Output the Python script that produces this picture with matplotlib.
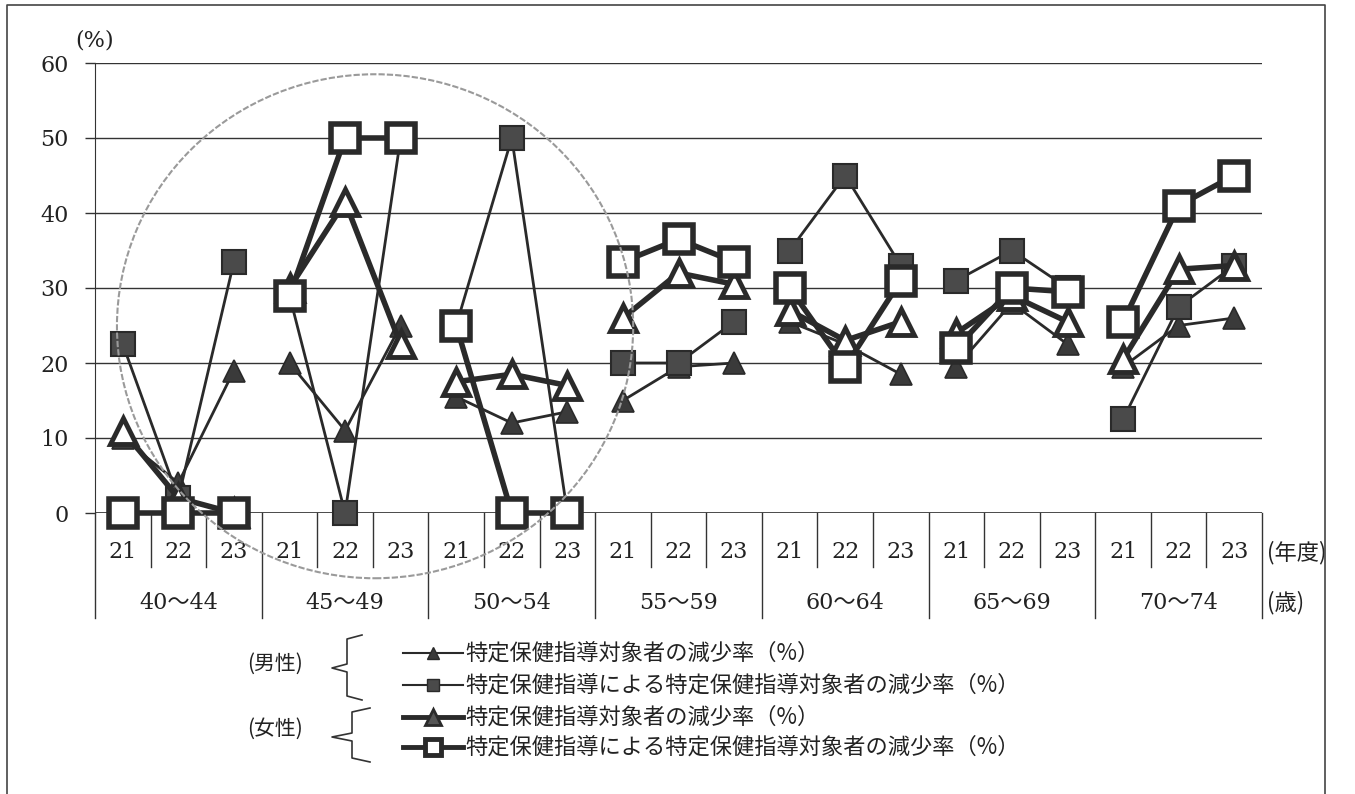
import matplotlib
matplotlib.use("Agg")
import matplotlib.pyplot as plt
import matplotlib.transforms as mtransforms
from matplotlib.lines import Line2D
from matplotlib.patches import Ellipse

plt.rcParams['font.family'] = ['DejaVu Serif', 'Noto Sans CJK JP']

# 年齢階級と年度
age_groups = ['40〜44', '45〜49', '50〜54', '55〜59', '60〜64', '65〜69', '70〜74']
years = ['21', '22', '23']

# 減少率 (%)  年齢階級ごとに 21, 22, 23 年度の順
male_target = [10, 4, 19, 20, 11, 25, 15.5, 12, 13.5, 15, 19.5, 20,
               25.5, 22.5, 18.5, 19.5, 28, 22.5, 19.5, 25, 26]
male_guided = [22.5, 2, 33.5, 29, 0, 50, 25, 50, 0, 20, 20, 25.5,
               35, 45, 33, 31, 35, 30, 12.5, 27.5, 33]
female_target = [11, 2, 0, 30, 41.5, 22.5, 17.5, 18.5, 17, 26, 32, 30.5,
                 27, 23, 25.5, 24, 29, 25.5, 20.5, 32.5, 33]
female_guided = [0, 0, 0, 29, 50, 50, 25, 0, 0, 33.5, 36.5, 33.5,
                 30, 19.5, 31, 22, 30, 29.5, 25.5, 41, 45]

label_target = '特定保健指導対象者の減少率（%）'
label_guided = '特定保健指導による特定保健指導対象者の減少率（%）'

W, H = 1355, 794
ink = '#2a2a2a'

# 系列ごとの線・マーカー
series = [
    (male_target, dict(lw=2.0, marker='^', ms=16, mfc='#3a3a3a', mec=ink, mew=1.2, zorder=3)),
    (male_guided, dict(lw=2.0, marker='s', ms=17, mfc='#4a4a4a', mec=ink, mew=1.5, zorder=4)),
    (female_target, dict(lw=4.0, marker='^', ms=19, mfc='white', mec=ink, mew=3.5, zorder=5)),
    (female_guided, dict(lw=4.0, marker='s', ms=20, mfc='white', mec=ink, mew=4.0, zorder=6)),
]


def fx(x):
    return x / W


def fy(y):
    return 1 - y / H


fig = plt.figure(figsize=(W / 100, H / 100), dpi=100)
ax = fig.add_axes([fx(95), fy(513), (1262 - 95) / W, 450 / H])

for vals, style in series:
    for g in range(len(age_groups)):
        xs = [3 * g + k for k in range(3)]
        ax.plot(xs, vals[3 * g:3 * g + 3], color=ink, clip_on=False, **style)

ax.set_xlim(-0.5, 3 * len(age_groups) - 0.5)
ax.set_ylim(0, 60)
ax.set_yticks(range(0, 61, 10))
ax.set_xticks([])
ax.yaxis.grid(True, color='#333333', lw=1.0)
ax.set_axisbelow(True)
for side in ['top', 'right', 'bottom']:
    ax.spines[side].set_visible(False)
ax.spines['left'].set_color('#333333')
ax.tick_params(axis='y', direction='out', length=7, width=1.0, color='#333333',
               pad=12, labelsize=16, labelcolor='#222222')
ax.axhline(0, color='#333333', lw=1.2, zorder=1)

fig.text(fx(95), fy(40), '(%)', fontsize=16, ha='center', va='center', color='#222222')

# 年度・年齢階級の表
trans = mtransforms.blended_transform_factory(ax.transData, ax.transAxes)
n = 3 * len(age_groups)
for i in range(n + 1):
    bottom = -0.233 if i % 3 == 0 else -0.12
    ax.plot([i - 0.5, i - 0.5], [0, bottom], transform=trans, color='#333333',
            lw=1.0, clip_on=False)
for i in range(n):
    ax.text(i, -0.087, years[i % 3], transform=trans, ha='center', va='center',
            fontsize=16, color='#222222')
for g, name in enumerate(age_groups):
    ax.text(3 * g + 1, -0.2, name, transform=trans, ha='center', va='center',
            fontsize=16, color='#222222')
ax.text(1.004, -0.087, '(年度)', transform=ax.transAxes, ha='left', va='center',
        fontsize=16, family=['Noto Sans CJK JP'], color='#222222')
ax.text(1.004, -0.2, '(歳)', transform=ax.transAxes, ha='left', va='center',
        fontsize=16, family=['Noto Sans CJK JP'], color='#222222')

# 40〜54歳を囲む円
ax.add_patch(Ellipse((4.54, 24.9), 9.29, 67.2, fill=False, edgecolor='#9a9a9a',
                     lw=1.5, ls=(0, (3, 1)), clip_on=False, zorder=10))

# 凡例
legend_rows = [
    (653, label_target, dict(lw=1.5, marker='^', ms=9, mfc='#3a3a3a', mec=ink, mew=1)),
    (685, label_guided, dict(lw=1.5, marker='s', ms=9, mfc='#4a4a4a', mec=ink, mew=1)),
    (717, label_target, dict(lw=3.5, marker='^', ms=12, mfc='#555555', mec=ink, mew=2)),
    (747, label_guided, dict(lw=3.5, marker='s', ms=11, mfc='white', mec=ink, mew=3.5)),
]
for y, text, style in legend_rows:
    fig.add_artist(Line2D([fx(403), fx(433), fx(463)], [fy(y)] * 3, color=ink,
                          markevery=[1], transform=fig.transFigure, **style))
    fig.text(fx(465), fy(y), text, fontsize=16, family=['Noto Sans CJK JP'],
             ha='left', va='center', color='#222222')

fig.text(fx(275), fy(664), '(男性)', fontsize=15, family=['Noto Sans CJK JP'],
         ha='center', va='center', color='#222222')
fig.text(fx(275), fy(729), '(女性)', fontsize=15, family=['Noto Sans CJK JP'],
         ha='center', va='center', color='#222222')

# 中括弧
for top, mid, bot, x0, x1 in [(635, 668, 700, 347, 362), (708, 737, 762, 352, 370)]:
    xs = [x1, x0, x0, 332, x0, x0, x1]
    ys = [top, top + 4, mid - 4, mid, mid + 4, bot - 4, bot]
    fig.add_artist(Line2D([fx(v) for v in xs], [fy(v) for v in ys], color='#333333',
                          lw=1.2, transform=fig.transFigure))

# 外枠
fig.add_artist(Line2D([fx(7), fx(7), fx(1325), fx(1325)], [fy(794), fy(5), fy(5), fy(794)],
                      color='#444444', lw=1.2, transform=fig.transFigure))

fig.savefig('out.png', dpi=100)
